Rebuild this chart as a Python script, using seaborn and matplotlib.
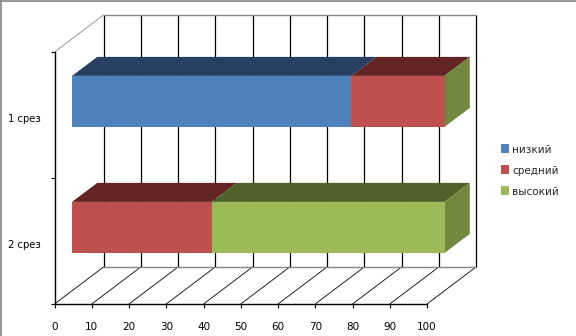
import matplotlib
matplotlib.use('Agg')
import matplotlib.pyplot as plt
import matplotlib.transforms as mtransforms
from matplotlib.lines import Line2D
import seaborn as sns

categories = ['1 срез', '2 срез']
series_names = ['низкий', 'средний', 'высокий']
low = [75, 0]
mid = [25, 37.5]
high = [0, 62.5]
x_ticks = [0, 10, 20, 30, 40, 50, 60, 70, 80, 90, 100]

front_colors = ['#4F81BD', '#C0504D', '#9BBB59']
top_colors = ['#254061', '#632523', '#4F6228']
side_color = '#71893F'
grey = '#868686'

# pixel to data scale of the front plane
PX_X = 100 / 372.5
PX_Y = 2 / 252
WALL_DX, WALL_DY = 49 * PX_X, -37 * PX_Y
BAR_DX, BAR_DY = 17.5 * PX_X, -13.6 * PX_Y
TOP_DX, TOP_DY = 25.3 * PX_X, -19 * PX_Y
BAR_H = 0.405

sns.set_theme(style='white')
plt.rcParams['font.family'] = ['DejaVu Sans']

fig = plt.figure(figsize=(5.76, 3.36), dpi=100)
ax = fig.add_axes([54.5 / 576, (336 - 304) / 336, 372.5 / 576, 252 / 336])

# back wall and floor go first so the bars sit on top
y_top, y_bot = -0.5, 1.5
for t in x_ticks:
    ax.plot([t + WALL_DX, t + WALL_DX], [y_top + WALL_DY, y_bot + WALL_DY], color='black', lw=0.9, clip_on=False, zorder=1)
    ax.plot([t, t + WALL_DX], [y_bot, y_bot + WALL_DY], color='black', lw=0.6, clip_on=False, zorder=1)
ax.plot([WALL_DX, 100 + WALL_DX], [y_top + WALL_DY] * 2, color=grey, lw=1, clip_on=False, zorder=2)
ax.plot([WALL_DX, 100 + WALL_DX], [y_bot + WALL_DY] * 2, color=grey, lw=1, clip_on=False, zorder=2)
ax.plot([0, WALL_DX], [y_top, y_top + WALL_DY], color=grey, lw=0.6, clip_on=False, zorder=1)

lefts = [0, 0]
spans = []
for name, vals, col in zip(series_names, [low, mid, high], front_colors):
    sns.barplot(y=categories, x=vals, left=lefts, color=col, saturation=1, width=BAR_H, orient='h',
                errorbar=None, label=name, ax=ax, zorder=4, linewidth=0)
    spans.append(list(lefts))
    lefts = [a + b for a, b in zip(lefts, vals)]

shift = mtransforms.Affine2D().translate(BAR_DX, BAR_DY) + ax.transData
for p in ax.patches:
    p.set_transform(shift)
    p.set_clip_on(False)

# top faces and the end cap of each stack
for i in range(len(categories)):
    yt = i - BAR_H / 2 + BAR_DY
    yb = i + BAR_H / 2 + BAR_DY
    for k, vals in enumerate([low, mid, high]):
        x0 = spans[k][i] + BAR_DX
        x1 = x0 + vals[i]
        if vals[i] > 0:
            ax.fill([x0, x1, x1 + TOP_DX, x0 + TOP_DX], [yt, yt, yt + TOP_DY, yt + TOP_DY],
                    color=top_colors[k], lw=0, clip_on=False, zorder=3)
    xe = lefts[i] + BAR_DX
    ax.fill([xe, xe + TOP_DX, xe + TOP_DX, xe], [yt, yt + TOP_DY, yb + TOP_DY, yb],
            color=side_color, lw=0, clip_on=False, zorder=3)

ax.set_xlim(0, 100)
ax.set_ylim(y_bot, y_top)
ax.set_xlabel('')
ax.set_ylabel('')
ax.patch.set_alpha(0)
ax.set_xticks(x_ticks)
ax.set_yticks([0, 1], categories)
ax.set_yticks([-0.5, 0.5, 1.5], minor=True)
ax.tick_params(axis='x', length=3.5 * 0.72, width=0.8, color='black', labelsize=7.5, pad=10.5, bottom=True, labelcolor='black')
ax.tick_params(axis='y', which='major', length=0, labelsize=7.2, pad=10, labelcolor='black')
ax.tick_params(axis='y', which='minor', length=4 * 0.72, width=0.8, color='black', left=True)
# category labels sit a little below the band centre
for label in ax.get_yticklabels():
    label.set_transform(label.get_transform() + mtransforms.Affine2D().translate(0, -3))
for s in ['top', 'right']:
    ax.spines[s].set_visible(False)
for s in ['left', 'bottom']:
    ax.spines[s].set_color('black')
    ax.spines[s].set_linewidth(1)

ax.legend(loc='center left', bbox_to_anchor=(501 / 576, 165.5 / 336), bbox_transform=fig.transFigure, frameon=False,
          fontsize=7.5, handlelength=0.75, handleheight=0.95, handletextpad=0.3, labelspacing=1.05, borderpad=0, borderaxespad=0)

# thin frame of the original picture
fig.add_artist(Line2D([0, 1], [0.9985, 0.9985], color=grey, lw=1.2))
fig.add_artist(Line2D([0.001, 0.001], [0, 1], color=grey, lw=1.2))

fig.savefig('out.png', dpi=100)
